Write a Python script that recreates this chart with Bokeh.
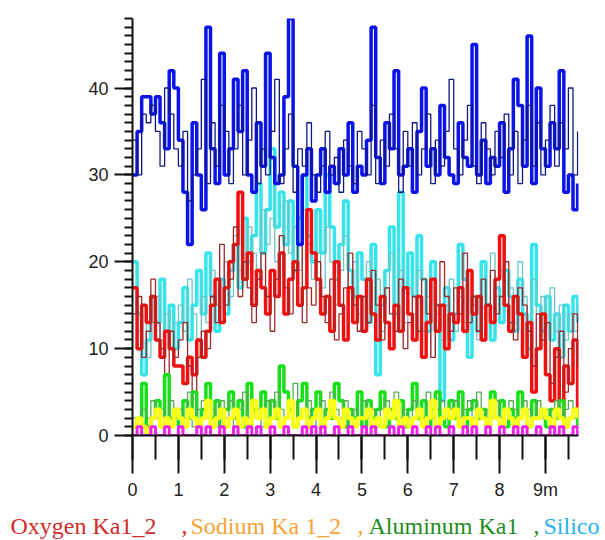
from bokeh.plotting import figure
from bokeh.models import SingleIntervalTicker, Range1d, ColumnDataSource
from bokeh.layouts import column
from bokeh.core.properties import value
from bokeh.embed import file_html
from bokeh.resources import INLINE

# time axis (minutes), one sample every 0.1 min
times = [i / 10 for i in range(98)]

blue_main = [30, 35, 39, 39, 37, 39, 36, 33, 42, 40,
             34, 28, 22, 36, 30, 26, 47, 33, 29, 44,
             30, 33, 41, 35, 42, 30, 28, 36, 31, 44,
             32, 29, 30, 39, 48, 31, 22, 30, 33, 27,
             30, 33, 28, 31, 29, 33, 30, 36, 28, 31,
             30, 34, 47, 32, 29, 36, 33, 42, 30, 31,
             33, 28, 35, 40, 31, 33, 30, 38, 32, 30,
             29, 36, 32, 31, 45, 30, 34, 29, 32, 31,
             36, 28, 33, 41, 38, 31, 46, 29, 40, 33,
             31, 36, 33, 42, 28, 30, 26, 29]
blue_thin = [34, 30, 37, 36, 38, 35, 31, 40, 37, 33,
             31, 35, 27, 30, 33, 41, 29, 36, 31, 38,
             35, 29, 33, 38, 30, 34, 40, 29, 33, 30,
             35, 41, 29, 33, 37, 28, 33, 31, 36, 30,
             28, 31, 35, 30, 32, 28, 34, 31, 29, 35,
             33, 30, 38, 29, 34, 31, 37, 33, 28, 35,
             31, 36, 30, 33, 37, 29, 34, 31, 35, 41,
             33, 30, 34, 38, 31, 29, 36, 33, 30, 35,
             32, 37, 30, 35, 29, 34, 38, 31, 36, 30,
             34, 38, 31, 36, 33, 40, 30, 35]
red_main = [17, 10, 15, 13, 16, 11, 9, 12, 10, 8,
            8, 6, 9, 7, 11, 9, 12, 15, 18, 13,
            17, 20, 22, 28, 18, 21, 15, 19, 17, 14,
            19, 16, 21, 14, 18, 20, 15, 17, 26, 21,
            18, 14, 16, 12, 20, 15, 11, 17, 13, 16,
            12, 18, 14, 11, 16, 13, 10, 15, 12, 17,
            14, 11, 16, 9, 13, 18, 12, 15, 10, 14,
            13, 17, 12, 19, 14, 16, 11, 15, 13, 18,
            23, 15, 12, 16, 14, 9, 13, 5, 10, 14,
            7, 4, 10, 2, 8, 6, 11, 3]
red_thin = [14, 16, 9, 12, 18, 13, 10, 7, 12, 9,
            11, 13, 8, 5, 9, 12, 10, 16, 13, 22,
            15, 18, 24, 16, 20, 17, 13, 18, 21, 16,
            12, 18, 23, 17, 14, 19, 22, 13, 17, 15,
            20, 16, 13, 18, 11, 14, 17, 21, 15, 12,
            16, 13, 19, 15, 11, 17, 14, 12, 18, 10,
            13, 16, 12, 18, 14, 9, 15, 20, 16, 12,
            17, 14, 21, 13, 16, 12, 18, 15, 19, 14,
            16, 20, 13, 11, 17, 15, 12, 8, 14, 11,
            13, 6, 9, 12, 5, 10, 14, 8]
cyan_main = [20, 14, 7, 11, 16, 13, 18, 12, 15, 10,
             13, 17, 11, 15, 19, 14, 21, 16, 12, 18,
             14, 19, 22, 17, 25, 20, 23, 29, 21, 26,
             33, 24, 28, 22, 27, 19, 25, 30, 23, 20,
             26, 21, 30, 24, 18, 22, 27, 19, 16, 21,
             18, 13, 22, 7, 15, 19, 24, 14, 28, 17,
             21, 16, 23, 18, 12, 20, 15, 4, 17, 11,
             14, 22, 18, 9, 16, 12, 20, 15, 11, 17,
             13, 19, 16, 12, 18, 14, 10, 22, 15, 12,
             16, 11, 14, 9, 15, 12, 16, 13]
cyan_thin = [17, 12, 15, 9, 13, 16, 11, 14, 12, 13,
             15, 12, 18, 14, 11, 16, 13, 19, 15, 17,
             20, 16, 23, 19, 18, 24, 21, 18, 26, 22,
             25, 20, 23, 27, 21, 24, 19, 26, 22, 18,
             21, 17, 24, 20, 15, 19, 23, 17, 20, 14,
             16, 20, 14, 18, 12, 17, 21, 15, 19, 13,
             17, 14, 19, 12, 16, 9, 14, 11, 15, 18,
             12, 16, 13, 19, 15, 11, 18, 14, 21, 16,
             19, 15, 17, 13, 20, 16, 12, 18, 14, 16,
             13, 17, 12, 15, 11, 14, 12, 15]
green_main = [1, 2, 6, 1, 2, 4, 1, 7, 2, 3,
              1, 4, 2, 5, 1, 3, 6, 2, 4, 1,
              3, 5, 2, 4, 1, 6, 3, 2, 5, 1,
              4, 2, 8, 5, 3, 1, 4, 6, 2, 3,
              5, 1, 3, 2, 6, 4, 1, 3, 2, 5,
              1, 4, 2, 3, 5, 1, 3, 2, 4, 1,
              3, 6, 2, 4, 1, 3, 5, 2, 1, 4,
              2, 5, 1, 3, 4, 2, 3, 1, 5, 2,
              4, 1, 3, 2, 5, 3, 1, 4, 2, 3,
              1, 3, 2, 4, 1, 2, 3, 1]
green_thin = [2, 1, 3, 2, 4, 2, 3, 1, 4, 2,
              3, 2, 5, 1, 3, 4, 2, 3, 1, 4,
              2, 4, 1, 3, 5, 2, 4, 3, 1, 4,
              2, 5, 3, 2, 4, 6, 2, 3, 4, 1,
              3, 4, 2, 5, 3, 2, 4, 1, 3, 2,
              4, 2, 3, 1, 3, 4, 2, 5, 2, 3,
              2, 4, 3, 2, 5, 2, 3, 4, 2, 3,
              4, 2, 3, 4, 2, 5, 2, 3, 2, 4,
              2, 3, 4, 3, 2, 4, 3, 2, 4, 2,
              3, 2, 4, 2, 3, 4, 2, 3]
yellow_main = [1, 2, 1, 0, 2, 3, 1, 2, 1, 3,
               2, 1, 3, 2, 1, 2, 4, 1, 2, 3,
               1, 2, 3, 1, 2, 1, 4, 2, 3, 1,
               2, 3, 1, 2, 4, 1, 2, 3, 1, 2,
               3, 1, 2, 4, 2, 1, 3, 2, 1, 2,
               2, 3, 1, 2, 1, 3, 2, 4, 1, 2,
               1, 2, 3, 1, 2, 4, 1, 2, 3, 2,
               3, 1, 2, 2, 1, 3, 2, 1, 4, 2,
               1, 3, 2, 1, 2, 3, 1, 2, 2, 3,
               2, 1, 3, 2, 1, 2, 3, 2]
magenta_main = [0, 1, 0, 0, 1, 0, 0, 1, 0, 0,
                1, 0, 0, 0, 1, 0, 1, 0, 0, 1,
                0, 0, 1, 0, 0, 1, 0, 1, 0, 0,
                1, 0, 0, 1, 0, 0, 0, 1, 0, 1,
                0, 1, 0, 0, 1, 0, 0, 1, 0, 0,
                1, 0, 1, 0, 0, 0, 1, 0, 1, 0,
                0, 1, 0, 0, 1, 0, 1, 0, 0, 1,
                0, 0, 1, 0, 1, 0, 0, 1, 0, 0,
                1, 0, 0, 1, 0, 1, 0, 0, 1, 0,
                0, 1, 0, 1, 0, 0, 1, 0]

legend_texts = ["Oxygen Ka1_2", ",", "Sodium Ka 1_2", ",", "Aluminum Ka1", ",", "Silico"]
legend_colors = ["#d42b2b", "#d42b2b", "#f7a23a", "#f7a23a", "#1e8c1e", "#1e8c1e", "#27b3ee"]
legend_px = [10, 181, 190, 357, 368, 533, 543]  # left edge of each piece, in pixels

y_ticks_interval = 10
x_ticks_interval = 1

p = figure(width=605, height=502, output_backend="svg", toolbar_location=None,
           x_range=Range1d(0, 9.72), y_range=Range1d(0, 48),
           min_border_left=132, min_border_right=27, min_border_top=18,
           min_border_bottom=66)
p.frame_align = False
p.outline_line_color = None
p.xgrid.visible = False
p.ygrid.visible = False
p.background_fill_color = "white"

series = [
    (cyan_main, "#38e4ec", 3.5),
    (cyan_thin, "#6cc4c8", 1.3),
    (red_main, "#f01010", 3.5),
    (red_thin, "#9a2a2a", 1.3),
    (blue_main, "#0a14e6", 3.5),
    (blue_thin, "#101880", 1.3),
    (green_main, "#18e018", 3.5),
    (green_thin, "#5aa85a", 1.3),
    (yellow_main, "#ffff10", 4.0),
    (magenta_main, "#f020f0", 3.0),
]
for vals, col, w in series:
    p.step(times, vals, mode="after", line_color=col, line_width=w)

p.yaxis.ticker = SingleIntervalTicker(interval=y_ticks_interval, num_minor_ticks=10)
p.xaxis.ticker = SingleIntervalTicker(interval=x_ticks_interval, num_minor_ticks=2)
p.xaxis.major_label_overrides = {9: "9m"}
for ax in (p.xaxis[0], p.yaxis[0]):
    ax.axis_line_color = "#111111"
    ax.axis_line_width = 2
    ax.major_tick_line_color = "#111111"
    ax.minor_tick_line_color = "#111111"
    ax.major_tick_line_width = 2
    ax.minor_tick_line_width = 2
    ax.major_label_text_font = "Liberation Sans"
    ax.major_label_text_font_size = "18px"
    ax.major_label_text_color = "#222222"
    ax.major_tick_in = 0
    ax.minor_tick_in = 0
p.yaxis.major_tick_out = 18
p.yaxis.minor_tick_out = 8
p.yaxis.major_label_standoff = 6
p.xaxis.major_tick_out = 38
p.xaxis.minor_tick_out = 24
p.xaxis.major_label_standoff = 6

# legend strip below the chart: a frameless figure whose range is in pixels
leg = figure(width=605, height=38, output_backend="svg", toolbar_location=None,
             x_range=Range1d(0, 605), y_range=Range1d(0, 38),
             min_border_left=0, min_border_right=0, min_border_top=0,
             min_border_bottom=0)
leg.frame_align = False
leg.axis.visible = False
leg.xgrid.visible = False
leg.ygrid.visible = False
leg.outline_line_color = None
src = ColumnDataSource(dict(x=legend_px, y=[15] * len(legend_px),
                            text=legend_texts, color=legend_colors))
leg.text(x="x", y="y", text="text", source=src, text_color="color",
         text_font=value("Liberation Serif"), text_font_size="24px",
         text_baseline="alphabetic", text_align="left")

layout = column(p, leg, spacing=0)
open("out.html", "w").write(file_html(layout, INLINE))
